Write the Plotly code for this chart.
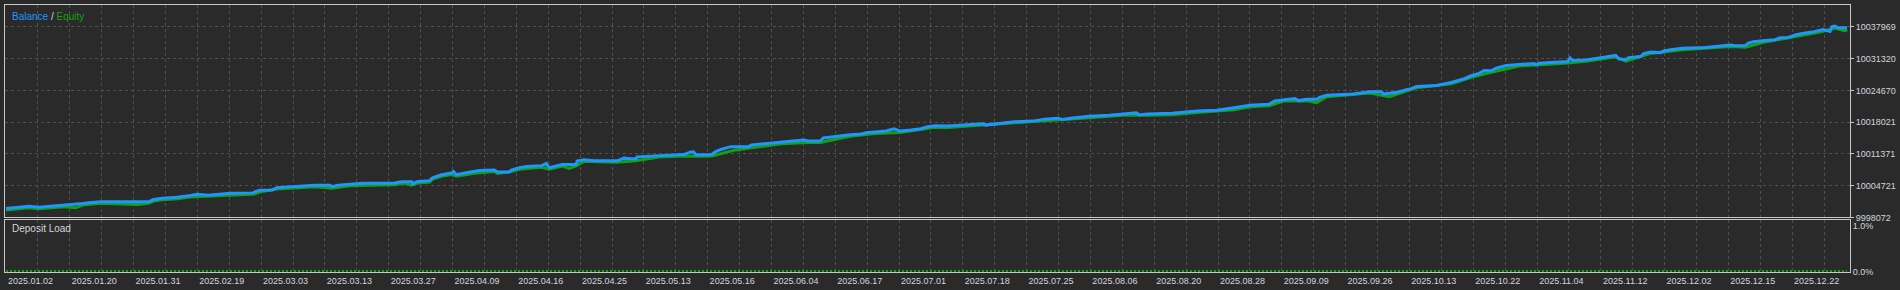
import plotly.graph_objects as go

# ---------------- data ----------------
balance_deals = [1, 18, 24, 34, 48, 59, 78, 84, 96, 144, 149, 158, 173, 186, 193, 204, 213, 226, 249, 251,
                 256, 268, 273, 293, 311, 326, 328, 334, 346, 359, 391, 393, 399, 408, 409, 413, 426, 429, 438, 448,
                 450, 453, 461, 471, 476, 491, 494, 506, 508, 516, 523, 538, 543, 546, 553, 559, 573, 574, 581, 591,
                 614, 621, 628, 633, 634, 656, 669, 681, 688, 691, 693, 709, 713, 719, 728, 746, 749, 759, 768, 779,
                 788, 801, 806, 818, 821, 829, 841, 848, 859, 864, 873, 884, 892, 898, 909, 919, 926, 933, 946, 966,
                 981, 984, 1001, 1013, 1031, 1043, 1056, 1061, 1069, 1076, 1088, 1108, 1121, 1135, 1138, 1146, 1171, 1186, 1196, 1216,
                 1233, 1238, 1249, 1268, 1274, 1283, 1294, 1298, 1306, 1316, 1319, 1326, 1353, 1369, 1381, 1383, 1391, 1398, 1406, 1411,
                 1416, 1436, 1451, 1464, 1471, 1478, 1484, 1491, 1496, 1506, 1519, 1534, 1536, 1539, 1568, 1570, 1573, 1586, 1606, 1616,
                 1619, 1626, 1629, 1641, 1644, 1651, 1661, 1664, 1671, 1683, 1706, 1716, 1731, 1736, 1746, 1749, 1754, 1766, 1776, 1781,
                 1789, 1796, 1803, 1813, 1821, 1824, 1831, 1833, 1836, 1839, 1848]
balance = [9999942, 10000212, 10000420, 10000212, 10000420, 10000628, 10000981, 10001127, 10001334, 10001334,
           10001812, 10002083, 10002290, 10002644, 10002914, 10002706, 10002914, 10003122, 10003205, 10003475,
           10003745, 10003828, 10004306, 10004576, 10004784, 10004784, 10004514, 10004784, 10004992, 10005200,
           10005200, 10005407, 10005553, 10005553, 10005075, 10005553, 10005761, 10006384, 10007007, 10007361,
           10007693, 10007007, 10007361, 10007631, 10007901, 10007984, 10007569, 10007569, 10007984, 10008462,
           10008732, 10008878, 10009356, 10008462, 10008878, 10009148, 10009148, 10009854, 10010124, 10009917,
           10009917, 10010478, 10010332, 10010332, 10010748, 10011018, 10011226, 10011226, 10011787, 10011787,
           10011163, 10011226, 10011849, 10012348, 10012888, 10012888, 10013241, 10013449, 10013657, 10013802,
           10014135, 10014280, 10014073, 10014073, 10014696, 10014904, 10015174, 10015382, 10015527, 10015797,
           10015943, 10016151, 10016629, 10016151, 10016358, 10016629, 10017044, 10017252, 10017190, 10017397,
           10017668, 10017397, 10017813, 10018083, 10018229, 10018644, 10018852, 10018582, 10018852, 10019060,
           10019268, 10019475, 10019746, 10019953, 10019538, 10019746, 10019891, 10020161, 10020369, 10020514,
           10020930, 10021200, 10021553, 10021761, 10022447, 10022738, 10022946, 10022530, 10022800, 10022800,
           10023216, 10023631, 10023902, 10024400, 10024400, 10023902, 10024109, 10024317, 10024816, 10025024,
           10025502, 10025709, 10026333, 10027102, 10027725, 10028141, 10028826, 10028764, 10029304, 10029865,
           10030073, 10030281, 10030011, 10030343, 10030697, 10031465, 10030904, 10031050, 10031673, 10032006,
           10031258, 10031112, 10031528, 10031736, 10032359, 10032712, 10032567, 10032920, 10033190, 10033460,
           10033668, 10033876, 10034167, 10034021, 10034084, 10034582, 10034853, 10035123, 10035268, 10035684,
           10035746, 10036245, 10036577, 10036868, 10037201, 10037409, 10036993, 10038032, 10038115, 10037762,
           10037762]

equity_deals = [1, 18, 24, 34, 48, 59, 71, 78, 96, 133, 144, 149, 158, 173, 186, 196, 213, 249, 256, 273,
                311, 328, 346, 391, 399, 408, 413, 426, 429, 438, 448, 453, 471, 491, 494, 508, 516, 538, 546, 559,
                566, 573, 581, 614, 633, 656, 681, 693, 709, 733, 746, 779, 806, 818, 848, 873, 898, 933, 946, 981,
                1013, 1043, 1088, 1121, 1146, 1171, 1196, 1233, 1249, 1268, 1283, 1306, 1316, 1326, 1369, 1389, 1398, 1416, 1451, 1471,
                1491, 1519, 1568, 1586, 1616, 1626, 1651, 1683, 1731, 1746, 1766, 1796, 1821, 1836, 1846, 1848]
equity = [9999631, 9999901, 10000108, 9999901, 10000108, 10000316, 10000088, 10000670, 10001023, 10000773,
          10001023, 10001501, 10001771, 10001979, 10002332, 10002477, 10002602, 10002893, 10003433, 10003994,
          10004472, 10004202, 10004680, 10004888, 10005241, 10004826, 10005241, 10005449, 10006072, 10006696,
          10007049, 10006696, 10007319, 10007672, 10007257, 10007672, 10008150, 10008566, 10008150, 10008836,
          10008317, 10008836, 10009813, 10009605, 10009917, 10010706, 10010914, 10010852, 10010914, 10012202,
          10012576, 10013491, 10013761, 10013761, 10015070, 10015631, 10015839, 10016940, 10016878, 10017356,
          10017771, 10018333, 10018956, 10019434, 10019434, 10019579, 10020057, 10020618, 10021242, 10021450,
          10022426, 10022489, 10022114, 10023320, 10024089, 10023361, 10024005, 10025190, 10026021, 10027413,
          10028452, 10029762, 10030385, 10030738, 10031694, 10030801, 10032401, 10033149, 10033855, 10033710,
          10034811, 10035933, 10036889, 10037720, 10037138, 10037450]

load_deals = [1, 200, 400, 600, 800, 1000, 1200, 1400, 1600, 1800, 1848]
deposit_load = [0.02, 0.02, 0.02, 0.02, 0.02, 0.02, 0.02, 0.02, 0.02, 0.02, 0.02]

date_labels = ["2025.01.02", "2025.01.20", "2025.01.31", "2025.02.19", "2025.03.03", "2025.03.13",
               "2025.03.27", "2025.04.09", "2025.04.16", "2025.04.25", "2025.05.13", "2025.05.16",
               "2025.06.04", "2025.06.17", "2025.07.01", "2025.07.18", "2025.07.25", "2025.08.06",
               "2025.08.20", "2025.08.28", "2025.09.09", "2025.09.26", "2025.10.13", "2025.10.22",
               "2025.11.04", "2025.11.12", "2025.12.02", "2025.12.15", "2025.12.22"]
date_label_deals = [25.5 + 64 * i for i in range(len(date_labels))]

balance_ticks = [9998072, 10004721, 10011371, 10018021, 10024670, 10031320, 10037969]
load_ticks = [0.0, 1.0]
load_tick_text = ["0.0%", "1.0%"]

# ---------------- style ----------------
BG = "#2a2a2a"
FRAME = "#c8c8c8"
GRID = "#505050"
TEXT = "#d2d6dc"
BLUE = "#1e96ff"
GREEN = "#14a014"
FONT = dict(family="Liberation Sans, Arial, sans-serif", size=9, color=TEXT)

X_RANGE = [0, 1851]
Y_RANGE = [9998072, 10042541]

fig = go.Figure()
fig.add_trace(go.Scatter(x=equity_deals, y=equity, mode="lines", name="Equity",
                         line=dict(color=GREEN, width=3), xaxis="x", yaxis="y"))
fig.add_trace(go.Scatter(x=balance_deals, y=balance, mode="lines", name="Balance",
                         line=dict(color=BLUE, width=3), xaxis="x", yaxis="y"))
fig.add_trace(go.Scatter(x=load_deals, y=deposit_load, mode="lines", name="Deposit Load",
                         line=dict(color=GREEN, width=2, dash="2px,2px"), xaxis="x2", yaxis="y2"))

minor_grid = dict(tickmode="linear", tick0=33, dtick=32, showgrid=True, gridcolor=GRID,
                  griddash="3px,3px", gridwidth=1, ticks="")

fig.update_layout(
    width=1900, height=290,
    margin=dict(l=4, r=45, t=4, b=17),
    paper_bgcolor=BG, plot_bgcolor=BG,
    showlegend=False,
    font=FONT,
    xaxis=dict(domain=[0, 1], range=X_RANGE, anchor="y", tickmode="array",
               tickvals=date_label_deals, ticktext=date_labels, showticklabels=False,
               showgrid=False, zeroline=False, showline=True, mirror=True,
               linecolor=FRAME, linewidth=1, ticks="", minor=minor_grid),
    yaxis=dict(domain=[0.2045, 1], range=Y_RANGE, side="right", anchor="x",
               tickmode="array", tickvals=balance_ticks,
               ticktext=[str(v) for v in balance_ticks],
               showgrid=True, gridcolor=GRID, griddash="3px,3px", zeroline=False,
               showline=True, mirror=True, linecolor=FRAME, linewidth=1,
               ticks="outside", ticklen=3, tickcolor=FRAME, tickfont=FONT),
    xaxis2=dict(domain=[0, 1], range=X_RANGE, anchor="y2", tickmode="array",
                tickvals=date_label_deals, ticktext=date_labels, showticklabels=True,
                showgrid=False, zeroline=False, showline=True, mirror=True,
                linecolor=FRAME, linewidth=1, ticks="", tickfont=FONT, minor=minor_grid),
    yaxis2=dict(domain=[0, 0.1933], range=[0, 1.13], side="right", anchor="x2",
                tickmode="array", tickvals=load_ticks, ticktext=load_tick_text,
                showgrid=False, zeroline=False, showline=True, mirror=True,
                linecolor=FRAME, linewidth=1, ticks="", tickfont=FONT),
    annotations=[
        dict(xref="paper", yref="paper", x=0, xshift=5, y=0.985, xanchor="left", yanchor="top",
             showarrow=False, font=dict(family=FONT["family"], size=10, color=TEXT),
             text=f"<span style='color:{BLUE}'>Balance</span> / <span style='color:{GREEN}'>Equity</span>"),
        dict(xref="paper", yref="paper", x=0, xshift=5, y=0.19, xanchor="left", yanchor="top",
             showarrow=False, font=dict(family=FONT["family"], size=10, color=TEXT),
             text="Deposit Load"),
    ],
)

fig.write_html("out.html")
